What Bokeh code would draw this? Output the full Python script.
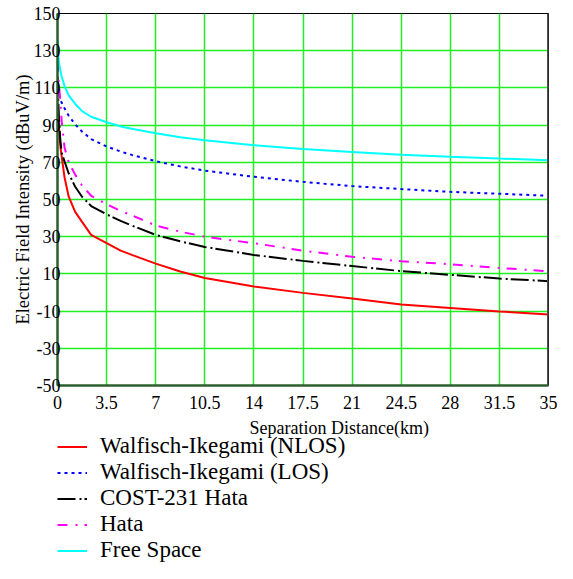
from bokeh.plotting import figure
from bokeh.layouts import column
from bokeh.models import Range1d, FixedTicker, Legend, LegendItem, Span, Label
from bokeh.embed import file_html
from bokeh.resources import INLINE

# ---- data ----
distance_km = [0.02, 0.05, 0.1, 0.2, 0.3, 0.5, 0.8, 1.25, 1.75, 2.4, 3.5, 4.5, 5.3,
               7, 8.75, 10.5, 14, 17.5, 21, 24.5, 28, 31.5, 35]

wi_nlos = [100, 95, 89, 79, 73, 62, 51.5, 43.5, 38, 31, 26.6, 22.5, 20.2,
           15.5, 11.3, 7.8, 3.2, -0.2, -3.2, -6.4, -8.3, -10.2, -11.8]
wi_los = [114, 110, 107, 104, 102, 99, 95, 90.5, 86.5, 82.5, 78.5, 75.8, 74,
          70.6, 67.8, 65.5, 62.2, 59.5, 57.2, 55.6, 54.1, 53.1, 52.0]
cost231_hata = [116, 105, 95, 82, 75, 70.5, 64, 57, 51.5, 46.5, 42, 38.5, 36,
                31, 27.5, 24.5, 20.2, 17, 14.2, 11.5, 9.5, 7.5, 6.1]
hata = [124, 118, 112, 103, 92, 78, 70, 63.5, 57.5, 52, 47.5, 43.8, 41.5,
        36, 32.7, 30, 26.5, 22.5, 19.2, 16.8, 15.2, 13.2, 11.4]
free_space = [136, 129, 124, 119.5, 116, 111, 106, 101.5, 97.5, 94.5, 91.5, 89.3, 88,
              85.6, 83.5, 81.8, 79.2, 77.1, 75.6, 74.1, 73, 72, 71.1]

series_names = ["Walfisch-Ikegami (NLOS)", "Walfisch-Ikegami (LOS)",
                "COST-231 Hata", "Hata", "Free Space"]

x_ticks = [0, 3.5, 7, 10.5, 14, 17.5, 21, 24.5, 28, 31.5, 35]
x_tick_labels = ["0", "3.5", "7", "10.5", "14", "17.5", "21", "24.5", "28", "31.5", "35"]
y_ticks = [-50, -30, -10, 10, 30, 50, 70, 90, 110, 130, 150]
y_tick_labels = ["-50", "-30", "-10", "10", "30", "50", "70", "90", "110", "130", "150"]

x_title = "Separation Distance(km)"
y_title = "Electric Field Intensity (dBuV/m)"

FONT = "Liberation Serif"

# ---- main chart ----
P_H = 415
p = figure(width=557, height=P_H, x_range=Range1d(0, 35), y_range=Range1d(-50, 150),
           output_backend="svg", toolbar_location=None,
           min_border_left=57, min_border_right=9, min_border_top=13, min_border_bottom=30)
p.title.visible = False
p.background_fill_color = "white"
p.border_fill_color = "white"
p.outline_line_color = "black"
p.outline_line_width = 1

p.xgrid.ticker = FixedTicker(ticks=x_ticks)
p.ygrid.ticker = FixedTicker(ticks=y_ticks)
for g in (p.xgrid, p.ygrid):
    g.grid_line_color = "#22ee22"
    g.grid_line_width = 1.5

p.xaxis.ticker = FixedTicker(ticks=x_ticks)
p.yaxis.ticker = FixedTicker(ticks=y_ticks)
p.xaxis.major_label_overrides = dict(zip(x_ticks, x_tick_labels))
p.yaxis.major_label_overrides = dict(zip(y_ticks, y_tick_labels))
for ax in (p.xaxis, p.yaxis):
    ax.axis_line_color = "#2d5e2d"
    ax.axis_line_width = 2.5
    ax.major_tick_out = 0
    ax.major_tick_in = 0
    ax.minor_tick_out = 0
    ax.minor_tick_in = 0
    ax.major_label_text_font = FONT
    ax.major_label_text_font_size = "18px"
    ax.major_label_text_color = "black"
p.xaxis.major_label_standoff = 10
p.yaxis.major_label_standoff = -3

p.yaxis.axis_label = y_title
p.yaxis.axis_label_text_font = FONT
p.yaxis.axis_label_text_font_size = "18.5px"
p.yaxis.axis_label_text_font_style = "normal"
p.yaxis.axis_label_text_color = "black"
p.yaxis.axis_label_standoff = -2

p.add_layout(Span(location=35, dimension="height", line_color="#505050", line_width=3))

styles = [
    (wi_nlos, "#ff0000", None),
    (wi_los, "#0000ff", "3 4"),
    (cost231_hata, "#000000", "18 4 2 3"),
    (hata, "#ff00ff", "10 8 2 7"),
    (free_space, "#00ffff", None),
]
for vals, color, dash in styles:
    kw = dict(line_color=color, line_width=2)
    if dash:
        kw["line_dash"] = dash
    p.line(distance_km, vals, **kw)

# ---- strip below the chart: x-axis title and legend ----
# (the column aligns this strip's frame with the chart's frame, left edge at x=57)
L_H = 563 - P_H
lg = figure(width=557, height=L_H, output_backend="svg", toolbar_location=None,
            x_axis_type=None, y_axis_type=None,
            x_range=Range1d(1000, 1557), y_range=Range1d(1000, 1000 + L_H),
            min_border_left=0, min_border_right=0, min_border_top=0, min_border_bottom=0)
lg.title.visible = False
lg.outline_line_color = None
lg.xgrid.visible = False
lg.ygrid.visible = False
lg.background_fill_color = "white"
lg.border_fill_color = "white"

lg.add_layout(Label(x=192, y=L_H - 12, x_units="screen", y_units="screen", text=x_title,
                    text_font=FONT, text_font_size="18px", text_align="left",
                    text_baseline="middle", text_color="black"))

items = []
for name, (vals, color, dash) in zip(series_names, styles):
    kw = dict(line_color=color, line_width=2)
    if dash:
        kw["line_dash"] = dash
    r = lg.line(distance_km, vals, **kw)   # same series; lie outside this strip's view
    items.append(LegendItem(label=name, renderers=[r]))

legend = Legend(items=items, location=(0, 0), padding=0, margin=0, spacing=0,
                glyph_width=30, glyph_height=25, label_height=25, label_standoff=13,
                label_text_font=FONT, label_text_font_size="23px",
                label_text_color="black", border_line_color=None,
                background_fill_alpha=0)
lg.add_layout(legend)

layout = column(p, lg, spacing=0)
open("out.html", "w").write(file_html(layout, INLINE))
